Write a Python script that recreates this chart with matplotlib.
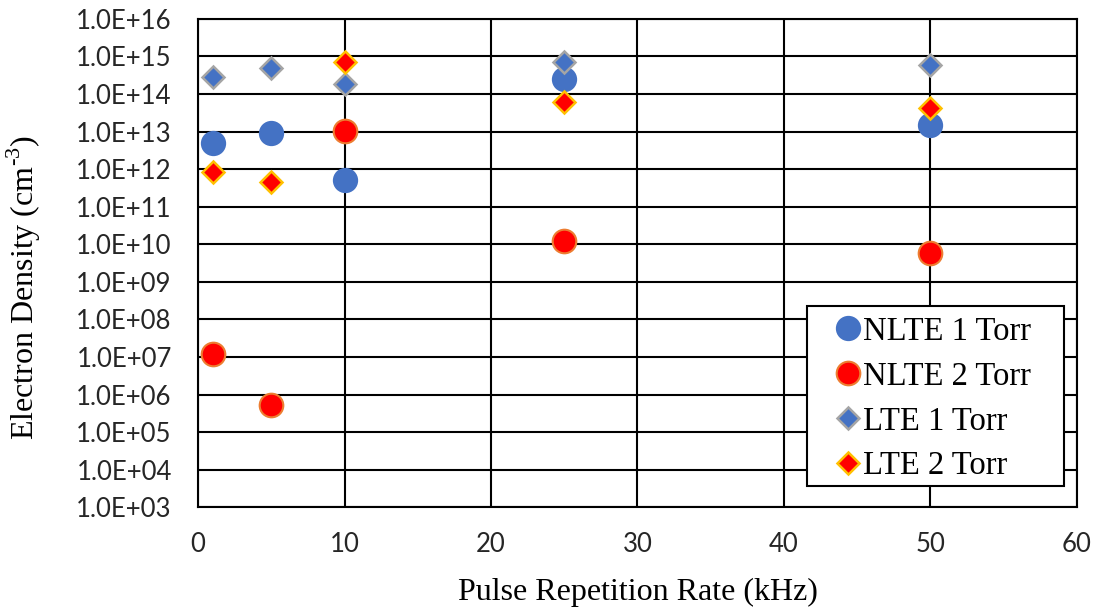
import math
import matplotlib
matplotlib.use("Agg")
import matplotlib.pyplot as plt
from matplotlib.patches import Rectangle
from matplotlib.ticker import FixedLocator, FuncFormatter

# pulse repetition rate (kHz)
rate = [1, 5, 10, 25, 50]

# electron density (cm^-3)
nlte_1torr = [5.0e12, 9.0e12, 5.0e11, 2.5e14, 1.5e13]
nlte_2torr = [1.2e7, 5.4e5, 1.05e13, 1.25e10, 6.0e9]
lte_1torr = [2.8e14, 5.0e14, 1.8e14, 7.0e14, 6.0e14]
lte_2torr = [8.6e11, 4.5e11, 7.0e14, 6.2e13, 4.2e13]

labels = ["NLTE 1 Torr", "NLTE 2 Torr", "LTE 1 Torr", "LTE 2 Torr"]

serif = "Liberation Serif"
sans = "Lato"
plt.rcParams["mathtext.fontset"] = "custom"
plt.rcParams["mathtext.rm"] = serif

fig = plt.figure(figsize=(11.01, 6.09), dpi=100)
ax = fig.add_axes([0.18, 0.167, 0.798, 0.802])

ax.plot(rate, nlte_1torr, "o", ms=17, color="#4472C4", mec="#4472C4",
        mew=1.2, label=labels[0], zorder=3)
ax.plot(rate, nlte_2torr, "o", ms=17, color="#FF0000", mec="#ED7D31",
        mew=1.5, label=labels[1], zorder=3)
ax.plot(rate, lte_1torr, "D", ms=11, color="#4472C4", mec="#A5A5A5",
        mew=1.8, label=labels[2], zorder=4)
ax.plot(rate, lte_2torr, "D", ms=11, color="#FF0000", mec="#FFC000",
        mew=1.8, label=labels[3], zorder=4)

ax.set_yscale("log")
ax.set_ylim(1e3, 1e16)
ax.set_xlim(0, 60)
ax.yaxis.set_major_locator(FixedLocator([10.0 ** k for k in range(3, 17)]))
ax.yaxis.set_minor_locator(FixedLocator([]))
ax.yaxis.set_major_formatter(FuncFormatter(lambda v, p: "1.0E+%02d" % round(math.log10(v))))
ax.set_xticks(range(0, 61, 10))

ax.grid(True, which="major", color="black", lw=1.5)
ax.set_axisbelow(True)
for s in ax.spines.values():
    s.set_color("black")
    s.set_linewidth(1.5)
ax.tick_params(axis="y", length=0, pad=19, labelsize=18.5)
ax.tick_params(axis="x", length=0, pad=18, labelsize=18.5)
for t in ax.get_xticklabels() + ax.get_yticklabels():
    t.set_fontfamily(sans)
    t.set_color("#262626")

ax.set_xlabel("Pulse Repetition Rate (kHz)", fontfamily=serif, fontsize=23, labelpad=15)
ax.set_ylabel("Electron Density (cm$^{\\text{-3}}$)", fontfamily=serif, fontsize=23)
ax.yaxis.set_label_coords(-0.177, 0.45)

# legend box (Excel-style, resized by hand in the original)
ax.add_patch(Rectangle((0.693, 0.043), 0.292, 0.370, transform=ax.transAxes,
                       facecolor="white", edgecolor="black", lw=1.5, zorder=6))
leg = ax.legend(loc="center", bbox_to_anchor=(0.8355, 0.222),
                prop={"family": serif, "size": 23.5}, frameon=False,
                handletextpad=0.02, labelspacing=0.44, borderpad=0,
                handlelength=0.9)
leg.set_zorder(7)

fig.savefig("out.png", dpi=100)
